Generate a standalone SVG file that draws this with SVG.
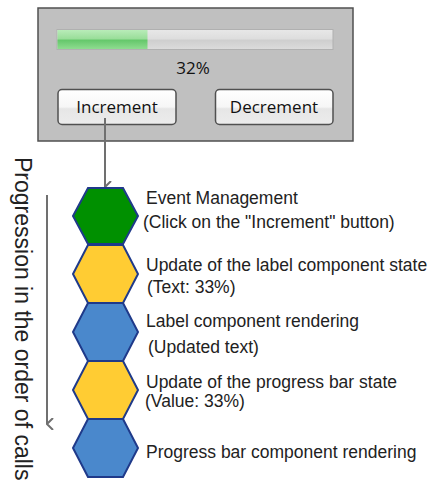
<svg xmlns="http://www.w3.org/2000/svg" width="430" height="488" viewBox="0 0 430 488">
<defs>
<linearGradient id="track" x1="0" y1="0" x2="0" y2="1">
<stop offset="0" stop-color="#e8e8e8"/><stop offset="0.45" stop-color="#dedede"/><stop offset="0.55" stop-color="#cfcfcf"/><stop offset="1" stop-color="#dcdcdc"/>
</linearGradient>
<linearGradient id="fill" x1="0" y1="0" x2="0" y2="1">
<stop offset="0" stop-color="#b8ecb8"/><stop offset="0.45" stop-color="#9ade9a"/><stop offset="0.55" stop-color="#66c86c"/><stop offset="1" stop-color="#8fdc90"/>
</linearGradient>
<linearGradient id="btn" x1="0" y1="0" x2="0" y2="1">
<stop offset="0" stop-color="#ffffff"/><stop offset="0.5" stop-color="#f6f6f6"/><stop offset="0.55" stop-color="#e6e6e6"/><stop offset="1" stop-color="#ececec"/>
</linearGradient>
<marker id="chev" viewBox="0 0 12 12" refX="6" refY="11" markerWidth="12" markerHeight="12" markerUnits="userSpaceOnUse" orient="auto-start-reverse">
<path d="M0,5 L6,11 L12,5" fill="none" stroke="#707070" stroke-width="2"/>
</marker>
</defs>
<style>
.lbl{font-family:"Liberation Sans",Arial,sans-serif;font-size:17.5px;fill:#222}
.ui{font-family:"Open Sans","Liberation Sans",sans-serif;font-size:17px;fill:#111}
.hex{stroke:#1f3a8a;stroke-width:2}
.conn{stroke:#707070;stroke-width:2;fill:none}
</style>
<g id="panel">
<rect x="38" y="8" width="315" height="133" fill="#c0c0c0" stroke="#505050" stroke-width="1.5"/>
<rect x="57" y="29.5" width="276" height="20" fill="url(#track)" stroke="#b0b0b0" stroke-width="1"/>
<rect x="57.5" y="30" width="90" height="19" fill="url(#fill)"/>
<text class="ui" x="193" y="74" text-anchor="middle">32%</text>
</g>
<g id="increment">
<rect x="58" y="89.5" width="118" height="35" rx="4" fill="url(#btn)" stroke="#505050" stroke-width="1.5"/>
<text class="ui" x="117" y="113" text-anchor="middle">Increment</text>
</g>
<g id="decrement">
<rect x="215.5" y="89.5" width="117.5" height="35" rx="4" fill="url(#btn)" stroke="#505050" stroke-width="1.5"/>
<text class="ui" x="274" y="113" text-anchor="middle">Decrement</text>
</g>
<g id="connectors">
<line class="conn" x1="105" y1="118" x2="105" y2="187" marker-end="url(#chev)"/>
<line class="conn" x1="47" y1="195" x2="47" y2="424" marker-end="url(#chev)"/>
</g>
<g id="progression">
<text x="15" y="157" transform="rotate(90 15 157)" font-family="Liberation Sans, Arial, sans-serif" font-size="23" fill="#222">Progression in the order of calls</text>
</g>
<g id="step1">
<polygon class="hex" fill="#009000" points="73,216 88,188 123,188 138,216 123,244 88,244"/>
<text class="lbl" x="146" y="204">Event Management</text>
<text class="lbl" x="143" y="228">(Click on the "Increment" button)</text>
</g>
<g id="step2">
<polygon class="hex" fill="#ffcc33" points="73,274 88,245 123,245 138,274 123,303 88,303"/>
<text class="lbl" x="146" y="271">Update of the label component state</text>
<text class="lbl" x="147" y="293">(Text: 33%)</text>
</g>
<g id="step3">
<polygon class="hex" fill="#4a88cc" points="73,332 88,303 123,303 138,332 123,361 88,361"/>
<text class="lbl" x="146" y="327">Label component rendering</text>
<text class="lbl" x="148" y="353">(Updated text)</text>
</g>
<g id="step4">
<polygon class="hex" fill="#ffcc33" points="73,390 88,361 123,361 138,390 123,419 88,419"/>
<text class="lbl" x="146" y="388">Update of the progress bar state</text>
<text class="lbl" x="145" y="407">(Value: 33%)</text>
</g>
<g id="step5">
<polygon class="hex" fill="#4a88cc" points="73,448 88,419 123,419 138,448 123,477 88,477"/>
<text class="lbl" x="146" y="458">Progress bar component rendering</text>
</g>
</svg>
